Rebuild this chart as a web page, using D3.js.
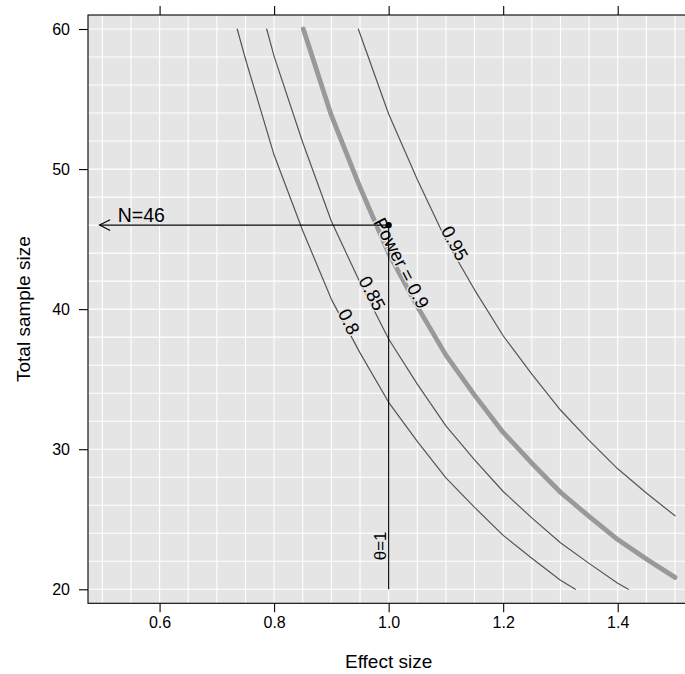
<!DOCTYPE html>
<html>
<head>
<meta charset="utf-8">
<script src="https://cdn.jsdelivr.net/npm/d3@7"></script>
<style>
  html, body { margin: 0; padding: 0; background: #ffffff; }
  svg { display: block; }
  text { font-family: "Liberation Sans", Arial, Helvetica, sans-serif; fill: #000; }
</style>
</head>
<body>
<svg id="chart" width="685" height="674"></svg>
<script>
// ---- data ----
const xTicks = [0.6, 0.8, 1.0, 1.2, 1.4];
const yTicks = [20, 30, 40, 50, 60];

const power80_d  = [0.7355, 0.75, 0.8, 0.85, 0.9, 0.95, 1.0, 1.05, 1.1, 1.15, 1.2, 1.25, 1.3, 1.326];
const power80_n  = [60, 57.86, 51.0, 45.6, 40.7, 36.88, 33.35, 30.56, 27.95, 25.85, 23.85, 22.22, 20.65, 20];
const power85_d  = [0.787, 0.8, 0.85, 0.9, 0.95, 1.0, 1.05, 1.1, 1.15, 1.2, 1.25, 1.3, 1.35, 1.4, 1.4186];
const power85_n  = [60, 58.05, 51.9, 46.27, 41.9, 37.87, 34.65, 31.67, 29.24, 26.98, 25.1, 23.32, 21.85, 20.43, 20];
const power90_d  = [0.851, 0.9, 0.95, 1.0, 1.05, 1.1, 1.15, 1.2, 1.25, 1.3, 1.35, 1.4, 1.45, 1.5];
const power90_n  = [60, 53.83, 48.7, 43.98, 40.2, 36.72, 33.86, 31.2, 29.0, 26.93, 25.2, 23.55, 22.17, 20.85];
const power95_d  = [0.947, 1.0, 1.05, 1.1, 1.15, 1.2, 1.25, 1.3, 1.35, 1.4, 1.45, 1.5];
const power95_n  = [60, 53.93, 49.25, 44.93, 41.38, 38.1, 35.36, 32.8, 30.63, 28.6, 26.87, 25.25];

const curveNames  = ["0.8", "0.85", "Power = 0.9", "0.95"];
const labelD      = [0.931, 0.9714, 1.0227, 1.1158];
const labelN      = [39.11, 41.14, 43.29, 44.71];

const targetEffect = 1.0;
const targetN = 46;
const arrowEndEffect = 0.495;

// ---- layout ----
const svg = d3.select("#chart");
const pL = 88, pT = 15, pR = 689.3, pB = 603.3;

const x = d3.scaleLinear().domain([0.475, 1.525]).range([pL, pR]);
const y = d3.scaleLinear().domain([19, 61]).range([pB, pT]);

svg.append("defs").append("clipPath").attr("id", "clip")
  .append("rect").attr("x", pL).attr("y", pT)
  .attr("width", pR - pL).attr("height", pB - pT);

// background
svg.append("rect").attr("x", pL).attr("y", pT)
  .attr("width", pR - pL).attr("height", pB - pT)
  .attr("fill", "#e5e5e5");

// grid
const gx = d3.range(0.5, 1.5001, 0.05);
const gy = d3.range(20, 60.001, 2);
const grid = svg.append("g").attr("clip-path", "url(#clip)");
grid.selectAll("line.gv").data(gx).join("line")
  .attr("x1", d => x(d)).attr("x2", d => x(d))
  .attr("y1", pT).attr("y2", pB)
  .attr("stroke", "#ffffff").attr("stroke-width", 1.1);
grid.selectAll("line.gh").data(gy).join("line")
  .attr("y1", d => y(d)).attr("y2", d => y(d))
  .attr("x1", pL).attr("x2", pR)
  .attr("stroke", "#ffffff").attr("stroke-width", 1.1);

// curves
const curves = [
  { d: power80_d, n: power80_n, thick: false },
  { d: power85_d, n: power85_n, thick: false },
  { d: power90_d, n: power90_n, thick: true },
  { d: power95_d, n: power95_n, thick: false }
];
const line = d3.line().x(p => x(p[0])).y(p => y(p[1]));
const plot = svg.append("g").attr("clip-path", "url(#clip)");
curves.forEach(c => {
  const pts = c.d.map((d, i) => [d, c.n[i]]);
  plot.append("path").datum(pts)
    .attr("d", line)
    .attr("fill", "none")
    .attr("stroke", c.thick ? "#999999" : "#555555")
    .attr("stroke-width", c.thick ? 4.8 : 1.2)
    .attr("stroke-linecap", "round")
    .attr("stroke-linejoin", "round");
});

// contour labels (angle follows local slope in pixel space)
function slopeAngle(c, d) {
  let i = 0;
  while (i < c.d.length - 2 && c.d[i + 1] < d) i++;
  const j0 = Math.max(0, i - 1), j1 = Math.min(c.d.length - 1, i + 2);
  const dx = x(c.d[j1]) - x(c.d[j0]);
  const dy = y(c.n[j1]) - y(c.n[j0]);
  return Math.atan2(dy, dx) * 180 / Math.PI;
}
curveNames.forEach((name, k) => {
  const px = x(labelD[k]), py = y(labelN[k]);
  const ang = slopeAngle(curves[k], labelD[k]);
  plot.append("text")
    .attr("transform", `translate(${px},${py}) rotate(${ang})`)
    .attr("text-anchor", "middle")
    .attr("dy", "0.36em")
    .attr("font-size", 18.5)
    .attr("stroke", "#e5e5e5").attr("stroke-width", 3)
    .attr("paint-order", "stroke")
    .text(name);
});

// annotation: vertical line, horizontal arrow, point
plot.append("line")
  .attr("x1", x(targetEffect)).attr("x2", x(targetEffect))
  .attr("y1", y(20)).attr("y2", y(targetN))
  .attr("stroke", "#000").attr("stroke-width", 1.1);
plot.append("line")
  .attr("x1", x(targetEffect)).attr("x2", x(arrowEndEffect))
  .attr("y1", y(targetN)).attr("y2", y(targetN))
  .attr("stroke", "#000").attr("stroke-width", 1.1);
const tipX = x(arrowEndEffect), tipY = y(targetN);
const ah = 12, aa = 27 * Math.PI / 180;
plot.append("path")
  .attr("d", `M${tipX + ah * Math.cos(aa)},${tipY - ah * Math.sin(aa)} L${tipX},${tipY} L${tipX + ah * Math.cos(aa)},${tipY + ah * Math.sin(aa)}`)
  .attr("fill", "none").attr("stroke", "#000").attr("stroke-width", 1.1);
plot.append("circle")
  .attr("cx", x(targetEffect)).attr("cy", y(targetN)).attr("r", 3.2)
  .attr("fill", "#000");

svg.append("text")
  .attr("x", x(0.527)).attr("y", y(targetN) - 3.5)
  .attr("font-size", 19.5)
  .text("N=" + targetN);

svg.append("text")
  .attr("transform", `translate(${x(targetEffect) - 2.5},${y(23.1)}) rotate(-90)`)
  .attr("text-anchor", "middle")
  .attr("font-size", 17)
  .text("\u03B8=1");

// axes
const tickLen = 9;
const axB = svg.append("g").attr("transform", `translate(0,${pB})`)
  .call(d3.axisBottom(x).tickValues(xTicks).tickSize(tickLen).tickPadding(4).tickFormat(d3.format(".1f")));
const axT = svg.append("g").attr("transform", `translate(0,${pT})`)
  .call(d3.axisTop(x).tickValues(xTicks).tickSize(tickLen).tickFormat(""));
const axL = svg.append("g").attr("transform", `translate(${pL},0)`)
  .call(d3.axisLeft(y).tickValues(yTicks).tickSize(tickLen).tickPadding(9).tickFormat(d3.format("d")));
const axR = svg.append("g").attr("transform", `translate(${pR},0)`)
  .call(d3.axisRight(y).tickValues(yTicks).tickSize(tickLen).tickFormat(""));
[axB, axT, axL, axR].forEach(a => {
  a.select(".domain").remove();
  a.selectAll(".tick line").attr("stroke", "#000").attr("stroke-width", 1.1);
  a.selectAll(".tick text").attr("font-size", 16).attr("fill", "#000")
    .attr("font-family", "Liberation Sans, Arial, sans-serif");
});

// frame
svg.append("rect").attr("x", pL).attr("y", pT)
  .attr("width", pR - pL).attr("height", pB - pT)
  .attr("fill", "none").attr("stroke", "#000").attr("stroke-width", 1.1);

// axis titles
svg.append("text")
  .attr("x", (pL + pR) / 2).attr("y", 668)
  .attr("text-anchor", "middle")
  .attr("font-size", 19)
  .text("Effect size");
svg.append("text")
  .attr("transform", `translate(30,${(pT + pB) / 2}) rotate(-90)`)
  .attr("text-anchor", "middle")
  .attr("font-size", 19)
  .text("Total sample size");
</script>
</body>
</html>
